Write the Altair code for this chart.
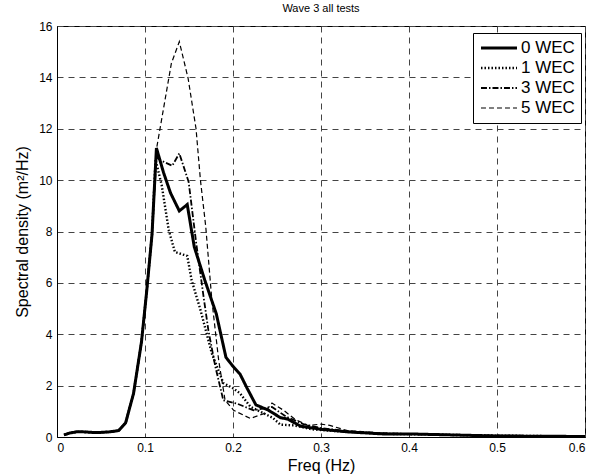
import altair as alt
import pandas as pd

series_names = ["0 WEC", "1 WEC", "3 WEC", "5 WEC"]

# shared low-frequency rise (all tests overlap here)
rise_freq = [0.008, 0.014, 0.022, 0.03, 0.04, 0.05, 0.06, 0.07, 0.078, 0.087, 0.096, 0.102, 0.108]
rise_psd = [0.08, 0.15, 0.2, 0.2, 0.18, 0.18, 0.2, 0.25, 0.55, 1.7, 3.7, 5.7, 7.9]

freq_0 = [0.113, 0.121, 0.129, 0.139, 0.148, 0.156, 0.168, 0.181, 0.192, 0.2, 0.208, 0.216,
          0.226, 0.24, 0.254, 0.262, 0.277, 0.3, 0.33, 0.37, 0.4, 0.45, 0.5, 0.55, 0.6]
psd_0 = [11.25, 10.3, 9.5, 8.8, 9.05, 7.4, 6.1, 4.8, 3.1, 2.75, 2.45, 1.9,
         1.25, 1.05, 0.75, 0.7, 0.42, 0.3, 0.2, 0.12, 0.12, 0.08, 0.04, 0.03, 0.02]

freq_1 = [0.112, 0.119, 0.127, 0.134, 0.148, 0.153, 0.163, 0.176, 0.189, 0.2, 0.208, 0.22,
          0.235, 0.245, 0.254, 0.27, 0.29, 0.31, 0.34, 0.38, 0.42, 0.48, 0.54, 0.6]
psd_1 = [10.8, 9.8, 8.05, 7.2, 7.05, 6.1, 4.95, 3.25, 2.1, 1.9, 1.7, 1.17,
         0.92, 0.75, 0.48, 0.45, 0.3, 0.25, 0.18, 0.12, 0.1, 0.06, 0.04, 0.02]

freq_3 = [0.113, 0.117, 0.131, 0.139, 0.1496, 0.158, 0.1666, 0.172, 0.18, 0.189, 0.2045,
          0.2234, 0.2443, 0.26, 0.28, 0.3, 0.33, 0.37, 0.42, 0.48, 0.54, 0.6]
psd_3 = [10.9, 10.78, 10.56, 11.04, 9.93, 7.6, 5.45, 4.16, 2.73, 1.43, 1.3,
         1.04, 1.17, 0.8, 0.5, 0.35, 0.22, 0.14, 0.1, 0.06, 0.04, 0.02]

freq_5 = [0.113, 0.130, 0.139, 0.149, 0.158, 0.163, 0.169, 0.176, 0.1837, 0.191, 0.2007,
          0.2197, 0.235, 0.2443, 0.2575, 0.27, 0.285, 0.3, 0.31, 0.33, 0.37, 0.42, 0.48, 0.54, 0.6]
psd_5 = [11.2, 14.55, 15.39, 13.96, 12.0, 10.0, 8.2, 5.32, 2.99, 1.43, 1.04,
         0.72, 0.91, 1.32, 1.04, 0.7, 0.45, 0.5, 0.45, 0.25, 0.15, 0.1, 0.06, 0.04, 0.02]

x_ticks = [0, 0.1, 0.2, 0.3, 0.4, 0.5, 0.6]
y_ticks = [0, 2, 4, 6, 8, 10, 12, 14, 16]

rows = []
for name, fr, ps in zip(series_names, [freq_0, freq_1, freq_3, freq_5], [psd_0, psd_1, psd_3, psd_5]):
    for f, p in zip(rise_freq + fr, rise_psd + ps):
        rows.append({"freq": f, "psd": p, "series": name})
df = pd.DataFrame(rows)

FONT = "Liberation Sans"

legend = alt.Legend(
    title=None, orient="none", legendX=416, legendY=7,
    strokeColor="black", fillColor="white", padding=6, cornerRadius=0,
    labelFontSize=17, labelFont=FONT, labelColor="black", labelOffset=2,
    symbolType="stroke", symbolSize=1300, symbolStrokeColor="black",
    rowPadding=2, clipHeight=18,
)

chart = alt.Chart(df).mark_line(color="black", clip=True).encode(
    x=alt.X("freq:Q", scale=alt.Scale(domain=[0, 0.6], nice=False),
            axis=alt.Axis(values=x_ticks, format="~g", title="Freq (Hz)")),
    y=alt.Y("psd:Q", scale=alt.Scale(domain=[0, 16], nice=False),
            axis=alt.Axis(values=y_ticks, title="Spectral density (m²/Hz)")),
    strokeDash=alt.StrokeDash("series:N", sort=series_names,
                              scale=alt.Scale(domain=series_names,
                                              range=[[1, 0], [1.5, 2], [6, 2, 1.5, 2], [5, 3]]),
                              legend=legend),
    strokeWidth=alt.StrokeWidth("series:N", sort=series_names,
                                scale=alt.Scale(domain=series_names, range=[3, 1.2, 1.2, 1.2]),
                                legend=legend),
).properties(
    width=528, height=411,
    autosize=alt.AutoSizeParams(type="none"),
    padding={"left": 57, "top": 26, "right": 17, "bottom": 39},
    title=alt.Title("Wave 3 all tests", fontSize=11, font=FONT, fontWeight="normal",
                    color="black", offset=6, anchor="middle"),
).configure_axis(
    labelFont=FONT, titleFont=FONT, labelFontSize=12, titleFontSize=16,
    titleFontWeight="normal", labelColor="black", titleColor="black",
    domainColor="black", ticks=False, labelPadding=5,
    gridColor="#444", gridDash=[6, 5], gridWidth=1, gridOpacity=1,
).configure_axisX(titlePadding=4).configure_axisY(titlePadding=8).configure_view(
    stroke="black", strokeWidth=1
)

chart.save("out.html", embed_options={"renderer": "svg", "actions": False})
